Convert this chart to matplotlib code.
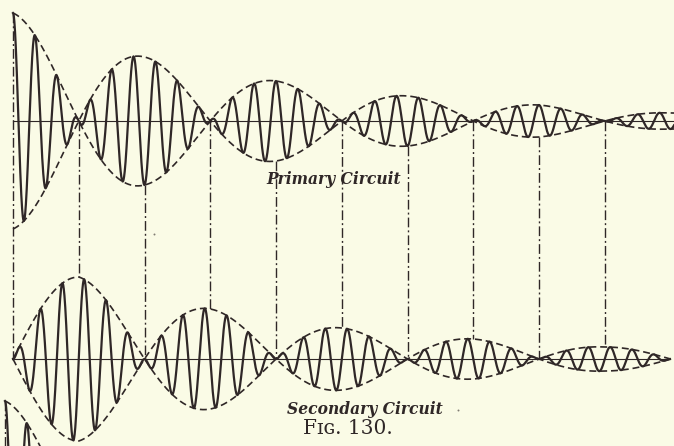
import numpy as np
import matplotlib
matplotlib.use("Agg")
import matplotlib.pyplot as plt

# ---------------- data (pixel units) ----------------
x_start = 13.0                 # where both oscillations begin
node_spacing = 131.5           # distance between successive beat nodes
carrier_cycles_per_lobe = 6    # oscillations inside one beat lobe
x_primary_end = 674.0
x_secondary_end = 670.0

primary_axis_y = 121.0
secondary_axis_y = 359.0

primary_peak_x = [13.0, 144.5, 276.0, 407.5, 539.0, 670.5]
primary_peak_amp = [108.0, 64.0, 40.0, 25.0, 16.0, 8.0]

secondary_peak_x = [78.75, 210.25, 341.75, 473.25, 604.75]
secondary_peak_amp = [82.0, 50.0, 31.0, 20.0, 12.0]

fragment_offset = [-8.0, 388.0]   # start of the next figure peeking in at bottom-left
fragment_length = 40.0
speck_x = [458.0, 154.0]
speck_y = [410.0, 234.0]

label_primary = "Primary Circuit"
label_secondary = "Secondary Circuit"
label_fig = "F\u026a\u0262. 130."

# ---------------- style ----------------
BG = "#FAFBE6"
INK = "#2f2727"
plt.rcParams["lines.scale_dashes"] = False

fig = plt.figure(figsize=(6.74, 4.46), dpi=100, facecolor=BG)
ax = fig.add_axes([0, 0, 1, 1])
ax.set_facecolor(BG)
ax.set_xlim(0, 674)
ax.set_ylim(446, 0)
ax.axis("off")

period = node_spacing / carrier_cycles_per_lobe


def decay(x, px, pa):
    return np.exp(np.interp(x, px, np.log(pa)))


def primary_env(x):
    return decay(x, primary_peak_x, primary_peak_amp) * np.cos(np.pi * (x - x_start) / node_spacing)


def secondary_env(x):
    return decay(x, secondary_peak_x, secondary_peak_amp) * np.sin(np.pi * (x - x_start) / node_spacing)


def draw_primary(x_end, dx=0.0, dy=0.0):
    x = np.linspace(x_start, x_end, 4000)
    env = primary_env(x)
    wave = env * np.cos(2 * np.pi * (x - x_start) / period)
    ax.plot(x + dx, primary_axis_y - wave + dy, color=INK, lw=1.6, solid_joinstyle="round")
    for s in (1, -1):
        ax.plot(x + dx, primary_axis_y - s * np.abs(env) + dy, color=INK, lw=1.2,
                dashes=(5.0, 2.8))


# primary circuit
draw_primary(x_primary_end)
ax.plot([x_start, x_primary_end], [primary_axis_y, primary_axis_y], color=INK, lw=0.8)

# secondary circuit
xs = np.linspace(x_start, x_secondary_end, 4000)
senv = secondary_env(xs)
swave = senv * np.sin(2 * np.pi * (xs - x_start) / period)
ax.plot(xs, secondary_axis_y - swave, color=INK, lw=1.6, solid_joinstyle="round")
for s in (1, -1):
    ax.plot(xs, secondary_axis_y - s * np.abs(senv), color=INK, lw=1.2, dashes=(5.0, 2.8))
ax.plot([x_start, x_secondary_end], [secondary_axis_y, secondary_axis_y], color=INK, lw=0.8)

# dash-dot connectors
dd = (7.0, 2.2, 1.4, 2.2)
# at the primary nodes -> secondary maxima
for xn in secondary_peak_x:
    ytop = primary_axis_y
    ybot = secondary_axis_y - abs(float(secondary_env(np.array([xn]))[0]))
    ax.plot([xn, xn], [ytop, ybot], color=INK, lw=1.0, dashes=dd)
# at the primary maxima -> secondary nodes
for i, xm in enumerate(primary_peak_x[:-1]):
    a = abs(float(primary_env(np.array([xm]))[0]))
    ytop = primary_axis_y - a if i == 0 else primary_axis_y + a
    ax.plot([xm, xm], [ytop, secondary_axis_y], color=INK, lw=1.0, dashes=dd)

# fragment of the next figure at bottom-left
draw_primary(x_start + fragment_length, fragment_offset[0], fragment_offset[1])
a0 = primary_peak_amp[0]
ax.plot([x_start + fragment_offset[0]] * 2,
        [primary_axis_y - a0 + fragment_offset[1], primary_axis_y + fragment_offset[1]],
        color=INK, lw=1.0, dashes=dd)

# specks
ax.scatter(speck_x, speck_y, s=2, color=INK, alpha=0.6, lw=0)

# labels
ax.text(334, 179, label_primary, family="DejaVu Serif", style="italic", weight="bold",
        fontsize=11.2, color=INK, ha="center", va="center")
ax.text(365, 409, label_secondary, family="DejaVu Serif", style="italic", weight="bold",
        fontsize=11.2, color=INK, ha="center", va="center")
ax.text(348, 428, label_fig, family="DejaVu Serif", fontsize=14.5, color=INK,
        ha="center", va="center")

fig.savefig("out.png", dpi=100, facecolor=BG)
